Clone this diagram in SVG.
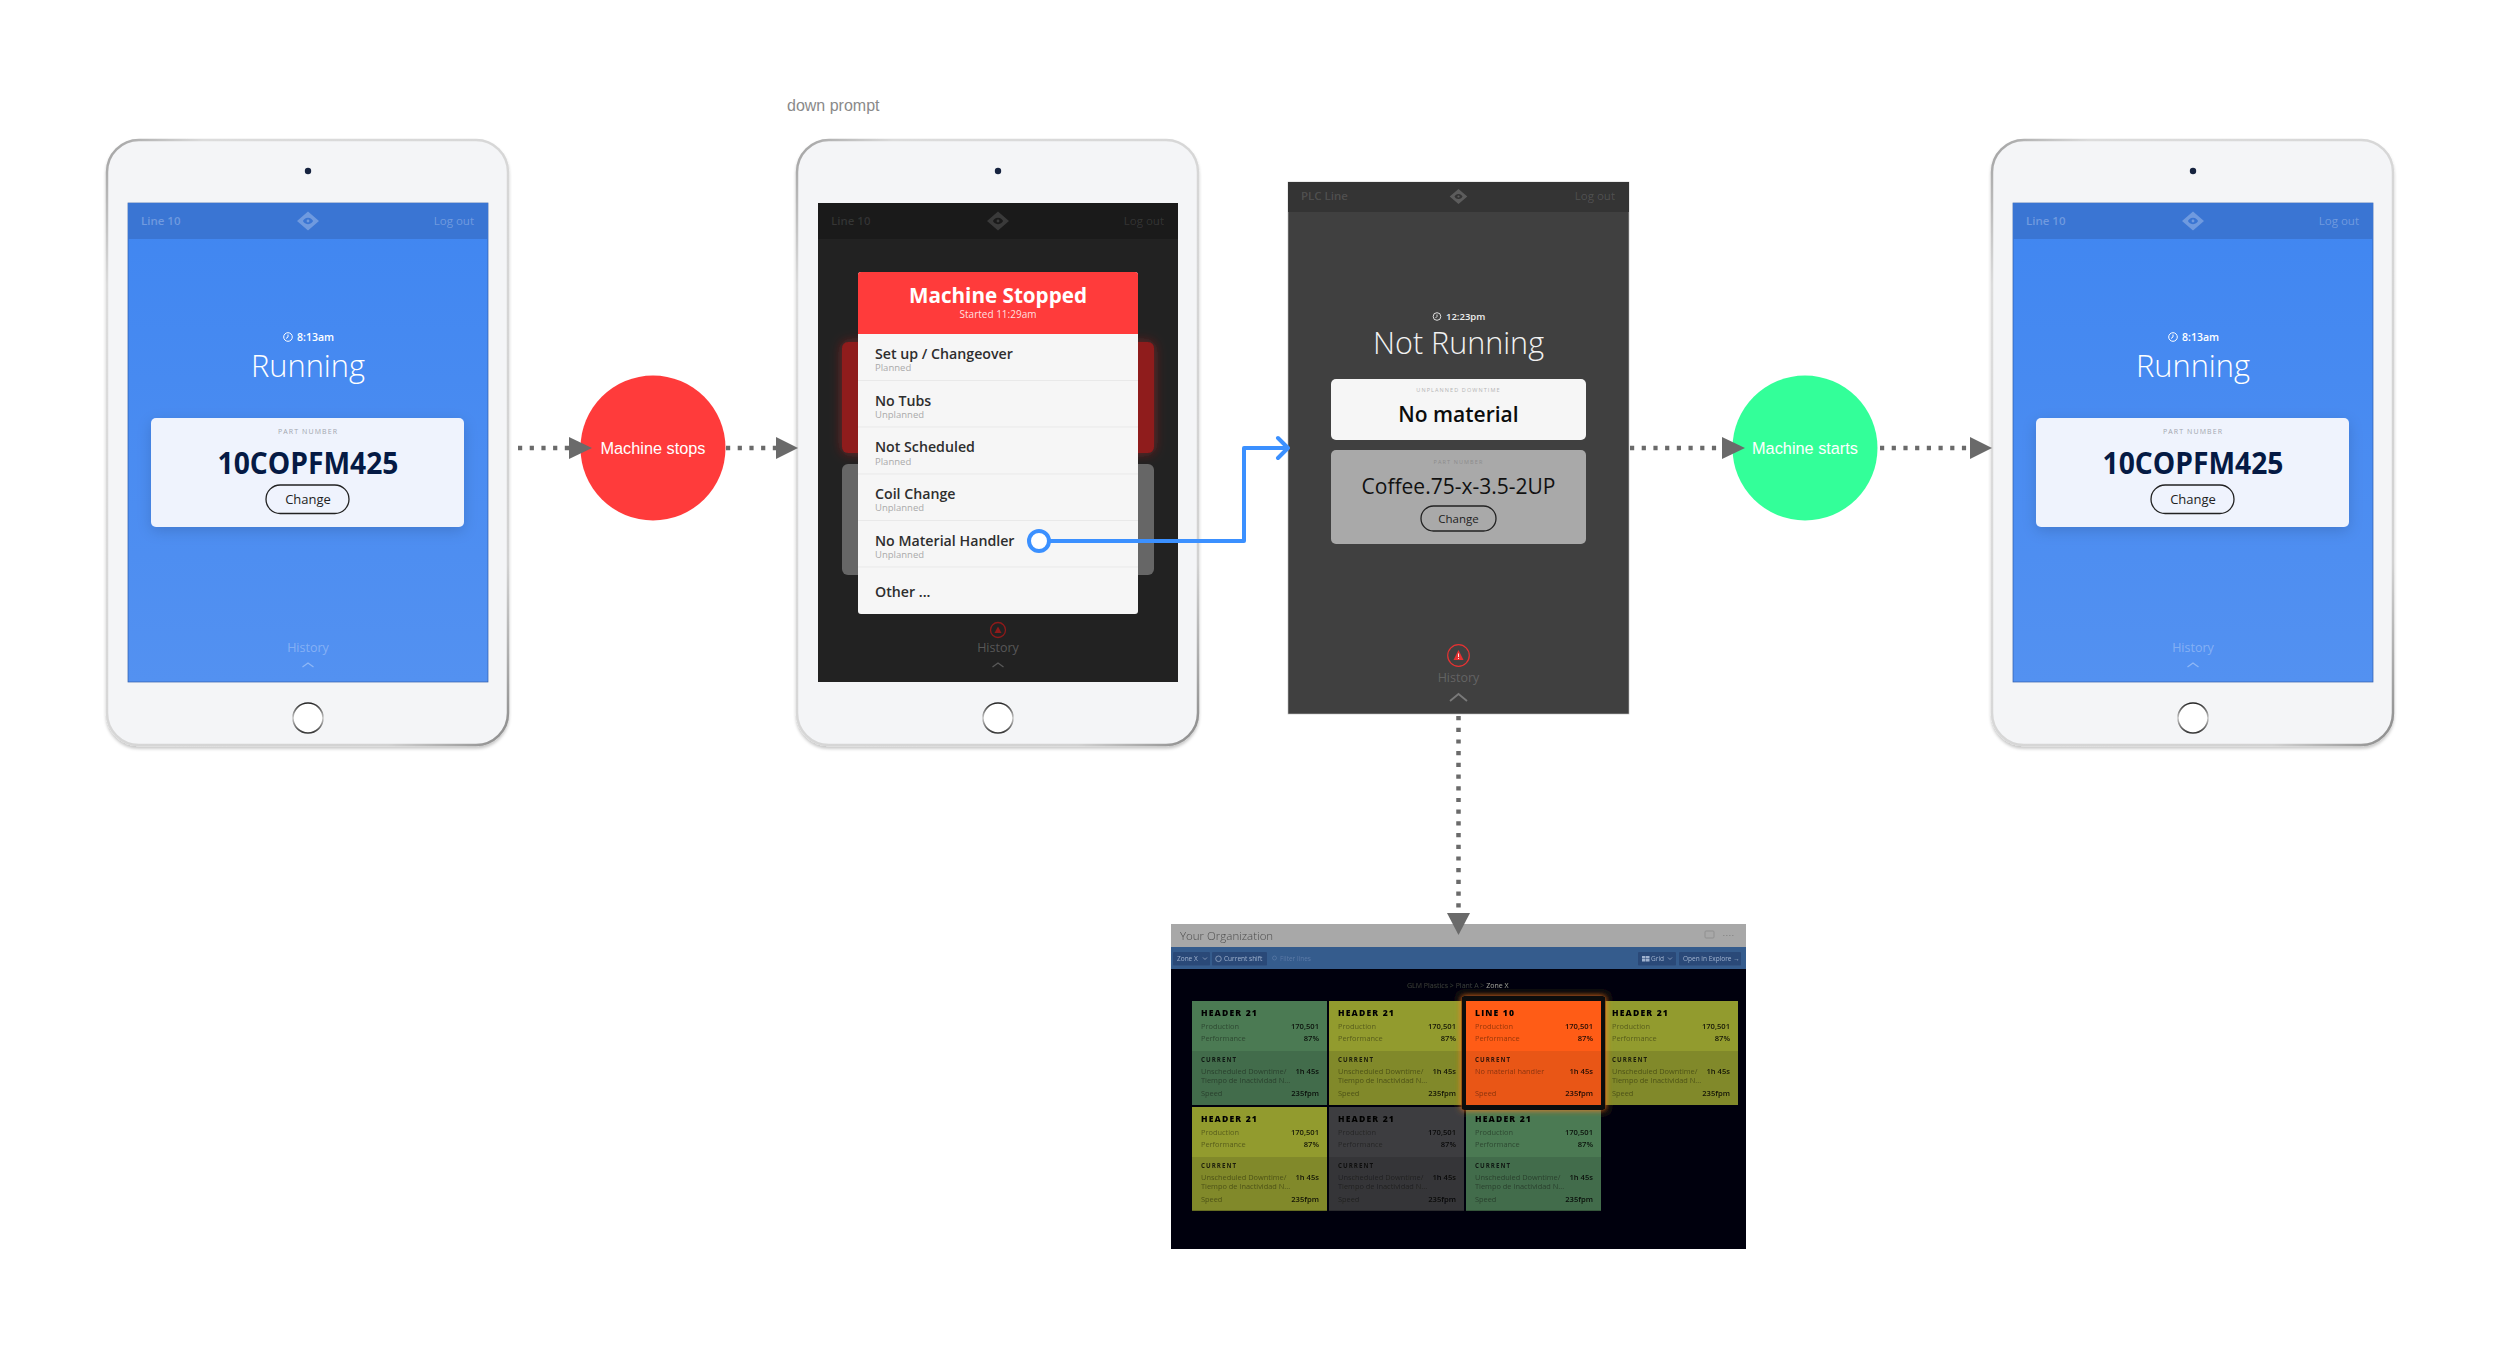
<svg xmlns="http://www.w3.org/2000/svg" width="2500" height="1358" viewBox="0 0 2500 1358">
<style>
text{font-family:"Open Sans","Liberation Sans",sans-serif}
.helv{font-family:"Liberation Sans",Arial,sans-serif}
.m{text-anchor:middle}.e{text-anchor:end}
.bezel{fill:#f4f5f7;stroke:url(#rim);stroke-width:2.5}
.cam{fill:#16233f}
.home{fill:#fff;stroke:url(#homeRim);stroke-width:1.6}
.hd{font-size:11.5px;font-weight:600;fill:#fff;fill-opacity:.28}
.lo{font-size:11.5px;font-weight:400;fill:#fff;fill-opacity:.28}
.hist{font-size:12.5px;font-weight:400;fill:#fff;fill-opacity:.3}
.chev{fill:none;stroke:#fff;stroke-opacity:.35;stroke-width:1.3}
.logo{fill:#fff;fill-opacity:.27}
.time{font-size:10.5px;font-weight:600;fill:#fff}
.clock{fill:none;stroke:#fff;stroke-width:1}
.title{font-size:32px;font-weight:300;fill:#fff}
.lab{font-size:7px;letter-spacing:1.1px;fill:#a2a6ae}
.pn{font-size:30px;font-weight:700;fill:#051a44}
.chg{font-size:13px;fill:#222;font-weight:500}
.btn{fill:none;stroke:#222;stroke-width:1.3}
.r1{font-size:14.2px;font-weight:600;fill:#2e2e2e}
.r2{font-size:9.5px;fill:#aaa}
.div{stroke:#e9e9e9;stroke-width:1}
.dot{fill:none;stroke:#6a6a6a;stroke-width:4.5;stroke-dasharray:4.2 7.5}
.ah{fill:#6a6a6a}
.bl{fill:none;stroke:#3b90ff;stroke-width:4;stroke-linejoin:round;stroke-linecap:round}
.cl{font-size:16.3px;fill:#fff}
.ch{font-size:8.6px;font-weight:800;letter-spacing:1.15px;fill:#050505}
.cc{font-size:6.2px;font-weight:700;letter-spacing:1.05px;fill:#050505;fill-opacity:.8}
.cn{font-size:7.4px;fill:#000;fill-opacity:.42}
.cv{font-size:7.6px;font-weight:600;fill:#000;fill-opacity:.85;text-anchor:end}
.dbtn{fill:#2c4a78}
.dt{font-size:6.5px;fill:#9fb2cf}
.dic{fill:none;stroke:#9fb2cf;stroke-width:.7}
</style>
<defs>
<linearGradient id="rim" x1="0" y1="0" x2="1" y2="1"><stop offset="0" stop-color="#a0a0a0"/><stop offset=".12" stop-color="#dcdcdc"/><stop offset=".85" stop-color="#d2d2d2"/><stop offset="1" stop-color="#8a8a8a"/></linearGradient>
<linearGradient id="homeRim" x1="0" y1="0" x2="0" y2="1"><stop offset="0" stop-color="#222"/><stop offset=".5" stop-color="#ccc"/><stop offset="1" stop-color="#333"/></linearGradient>
<linearGradient id="blue" x1="0" y1="0" x2="0" y2="1"><stop offset="0" stop-color="#4086f1"/><stop offset="1" stop-color="#5391f1"/></linearGradient>
<filter id="sh" x="-10%" y="-20%" width="120%" height="150%"><feDropShadow dx="0" dy="4" stdDeviation="7" flood-color="#000" flood-opacity=".14"/></filter>
<filter id="tsh" x="-5%" y="-5%" width="110%" height="110%"><feDropShadow dx="0" dy="2.5" stdDeviation="1.6" flood-color="#000" flood-opacity=".22"/></filter>
<filter id="rg" x="-15%" y="-25%" width="130%" height="150%"><feDropShadow dx="0" dy="0" stdDeviation="6" flood-color="#ff2a2a" flood-opacity=".4"/></filter>
<filter id="og" x="-15%" y="-15%" width="130%" height="130%"><feDropShadow dx="0" dy="0" stdDeviation="3" flood-color="#ff7a20" flood-opacity="1"/></filter>
<filter id="soft" x="-2%" y="-2%" width="104%" height="104%"><feGaussianBlur stdDeviation=".4"/></filter>
<path id="eye" d="M0 -9.5L11 0L0 9.5L-11 0Z M0 -3.2C-2.8 -3.2 -4.6 -1.2 -5 0C-4.6 1.2 -2.8 3.2 0 3.2C2.8 3.2 4.6 1.2 5 0C4.6 -1.2 2.8 -3.2 0 -3.2Z M0 -1.4A1.4 1.4 0 1 1 0 1.4A1.4 1.4 0 1 1 0 -1.4Z" fill-rule="evenodd"/>
</defs>
<rect width="2500" height="1358" fill="#fff"/>

<g id="tablet-running-1">
<rect class="bezel" x="107" y="140" width="401" height="605" rx="32" filter="url(#tsh)"/>
<circle class="cam" cx="308" cy="171" r="3.2"/>
<circle class="home" cx="308" cy="718" r="15"/>
<rect x="128" y="203" width="360" height="479" fill="url(#blue)" stroke="#2f5da8" stroke-width=".7"/>
<rect x="128" y="203" width="360" height="36" fill="#3a75d3"/>
<text class="hd" x="141" y="225">Line 10</text>
<use href="#eye" class="logo" x="308" y="221"/>
<text class="lo e" x="474" y="225">Log out</text>
<circle class="clock" cx="288" cy="337" r="4.3"/><path class="clock" d="M288 334.500V337L286 338.500"/>
<text class="time" x="297" y="341">8:13am</text>
<text class="title m" x="308" y="377" textLength="114" lengthAdjust="spacingAndGlyphs">Running</text>
<rect x="151" y="418" width="313" height="109" rx="5" fill="#eff3fd" filter="url(#sh)"/>
<text class="lab m" x="308" y="434">PART NUMBER</text>
<text class="pn m" x="308" y="474" textLength="181" lengthAdjust="spacingAndGlyphs">10COPFM425</text>
<rect class="btn" x="266" y="485" width="83" height="28.500" rx="14.200"/>
<text class="chg m" x="308" y="503.500">Change</text>
<text class="hist m" x="308" y="652">History</text>
<path class="chev" d="M302.500 667L308 663L313.500 667"/>
</g>

<g id="tablet-prompt">
<text class="helv" x="787" y="111" font-size="16" fill="#8a8a8a">down prompt</text>
<rect class="bezel" x="797" y="140" width="401" height="605" rx="32" filter="url(#tsh)"/>
<circle class="cam" cx="998" cy="171" r="3.2"/>
<circle class="home" cx="998" cy="718" r="15"/>
<rect x="818" y="203" width="360" height="479" fill="#222"/>
<rect x="818" y="203" width="360" height="36" fill="#1a1a1a"/>
<text class="hd" x="831" y="225" style="fill-opacity:.12">Line 10</text>
<use href="#eye" x="998" y="221" fill="#fff" fill-opacity=".14"/>
<text class="lo e" x="1164" y="225" style="fill-opacity:.12">Log out</text>
<rect x="842" y="342" width="312" height="111" rx="6" fill="#8f1a1a" filter="url(#rg)"/>
<rect x="842" y="464" width="312" height="111" rx="6" fill="#666"/>
<rect x="858" y="272" width="280" height="342" rx="3" fill="#f6f6f6"/>
<path d="M858 334V275a3 3 0 0 1 3-3H1135a3 3 0 0 1 3 3V334Z" fill="#ff3b3b"/>
<text class="m" x="998" y="303" font-size="22" font-weight="700" fill="#fff" textLength="178" lengthAdjust="spacingAndGlyphs">Machine Stopped</text>
<text class="m" x="998" y="318" font-size="10" fill="#fff" fill-opacity=".85">Started 11:29am</text>
<path class="div" d="M858 380.500H1138M858 427H1138M858 474H1138M858 520.500H1138M858 567H1138"/>
<text class="r1" x="875" y="359">Set up / Changeover</text><text class="r2" x="875" y="371">Planned</text>
<text class="r1" x="875" y="405.500">No Tubs</text><text class="r2" x="875" y="417.500">Unplanned</text>
<text class="r1" x="875" y="452">Not Scheduled</text><text class="r2" x="875" y="464.500">Planned</text>
<text class="r1" x="875" y="499">Coil Change</text><text class="r2" x="875" y="511">Unplanned</text>
<text class="r1" x="875" y="546">No Material Handler</text><text class="r2" x="875" y="558">Unplanned</text>
<text class="r1" x="875" y="597">Other ...</text>
<circle cx="998" cy="630" r="7.500" fill="none" stroke="#8f1a1a" stroke-width="1.300"/>
<path d="M998 626.500L1001.500 633H994.500Z" fill="#8f1a1a"/>
<text class="hist m" x="998" y="652" style="fill-opacity:.25">History</text>
<path class="chev" d="M992.500 667L998 663L1003.500 667" style="stroke-opacity:.25"/>
</g>

<g id="screen-not-running">
<rect x="1288" y="182" width="341" height="532" fill="#404040" stroke="#bdbdbd" stroke-width=".6"/>
<rect x="1288" y="182" width="341" height="30" fill="#343434"/>
<text class="hd" x="1301" y="200" style="fill-opacity:.15">PLC Line</text>
<use href="#eye" fill="#fff" fill-opacity=".2" transform="translate(1458.500 196.500) scale(.8)"/>
<text class="lo e" x="1615" y="200" style="fill-opacity:.15">Log out</text>
<circle cx="1437" cy="316.500" r="3.800" fill="none" stroke="#eee" stroke-width=".9"/><path d="M1437 314.500V316.500L1435.500 318" fill="none" stroke="#eee" stroke-width=".9"/>
<text class="time" x="1446" y="320" style="font-size:9.500px;fill:#eee">12:23pm</text>
<text class="title m" x="1458.500" y="354" style="font-size:31px;fill:#f2f2f2" textLength="171" lengthAdjust="spacingAndGlyphs">Not Running</text>
<rect x="1331" y="379" width="255" height="61" rx="5" fill="#f6f6f6"/>
<text class="lab m" x="1458.500" y="391.500" style="font-size:5.500px;fill:#b5b5b5">UNPLANNED DOWNTIME</text>
<text class="m" x="1458.500" y="421.500" font-size="21" font-weight="600" fill="#0c0c0c">No material</text>
<rect x="1331" y="450" width="255" height="94" rx="5" fill="#a9a9a9"/>
<text class="lab m" x="1458.500" y="463.500" style="font-size:5.500px;fill:#8c8c8c">PART NUMBER</text>
<text class="m" x="1458.500" y="493.500" font-size="21" font-weight="500" fill="#111">Coffee.75-x-3.5-2UP</text>
<rect class="btn" x="1421" y="506" width="75" height="25" rx="12.500"/>
<text class="m" x="1458.500" y="522.500" font-size="11.500" fill="#222" font-weight="500">Change</text>
<circle cx="1458.500" cy="655.500" r="10.800" fill="none" stroke="#e53232" stroke-width="1.200"/>
<path d="M1458.500 650L1463.500 660H1453.500Z" fill="#e53232"/>
<path d="M1458.500 653.500V657M1458.500 658V659" stroke="#fff" stroke-width=".9"/>
<text class="hist m" x="1458.500" y="682" style="fill-opacity:.2">History</text>
<path class="chev" d="M1450 701L1458.500 694L1467 701" style="stroke-opacity:.3;stroke-width:1.800"/>
</g>

<g id="tablet-running-2">
<rect class="bezel" x="1992" y="140" width="401" height="605" rx="32" filter="url(#tsh)"/>
<circle class="cam" cx="2193" cy="171" r="3.2"/>
<circle class="home" cx="2193" cy="718" r="15"/>
<rect x="2013" y="203" width="360" height="479" fill="url(#blue)" stroke="#2f5da8" stroke-width=".7"/>
<rect x="2013" y="203" width="360" height="36" fill="#3a75d3"/>
<text class="hd" x="2026" y="225">Line 10</text>
<use href="#eye" class="logo" x="2193" y="221"/>
<text class="lo e" x="2359" y="225">Log out</text>
<circle class="clock" cx="2173" cy="337" r="4.3"/><path class="clock" d="M2173 334.500V337L2171 338.500"/>
<text class="time" x="2182" y="341">8:13am</text>
<text class="title m" x="2193" y="377" textLength="114" lengthAdjust="spacingAndGlyphs">Running</text>
<rect x="2036" y="418" width="313" height="109" rx="5" fill="#eff3fd" filter="url(#sh)"/>
<text class="lab m" x="2193" y="434">PART NUMBER</text>
<text class="pn m" x="2193" y="474" textLength="181" lengthAdjust="spacingAndGlyphs">10COPFM425</text>
<rect class="btn" x="2151" y="485" width="83" height="28.500" rx="14.200"/>
<text class="chg m" x="2193" y="503.500">Change</text>
<text class="hist m" x="2193" y="652">History</text>
<path class="chev" d="M2187.500 667L2193 663L2198.500 667"/>
</g>

<g id="dashboard" filter="url(#soft)">
<rect x="1171" y="924" width="575" height="325" fill="#050609"/>
<rect x="1171" y="924" width="575" height="23" fill="#a8a8a8"/>
<rect x="1171" y="947" width="575" height="22" fill="#345b8d"/>
<text x="1180" y="940" font-size="11.500" font-weight="300" fill="#4c4c4c">Your Organization</text>
<rect x="1705" y="931" width="9" height="7" rx="1" fill="none" stroke="#8c8c8c" stroke-width=".8"/>
<path d="M1723 935.500h12" stroke="#8c8c8c" stroke-width="1.200" stroke-dasharray="1.500 1.500"/>
<rect class="dbtn" x="1173" y="952" width="37" height="13.500" rx="1"/>
<text class="dt" x="1177" y="961">Zone X</text>
<path class="dic" d="M1203 957.500l2 2 2-2"/>
<rect class="dbtn" x="1212" y="952" width="55" height="13.500" rx="1"/>
<circle class="dic" cx="1218.500" cy="958.800" r="2.800"/>
<text class="dt" x="1224" y="961">Current shift</text>
<circle cx="1274.500" cy="958" r="2" fill="none" stroke="#5e7ca7" stroke-width=".7"/>
<text class="dt" x="1280" y="961" style="fill:#5e7ca7">Filter lines</text>
<rect class="dbtn" x="1638" y="952" width="38" height="13.500" rx="1"/>
<path d="M1642 956h3.500v2.500h-3.500zM1646 956h3.500v2.500h-3.500zM1642 959h3.500v2.500h-3.500zM1646 959h3.500v2.500h-3.500z" fill="#9fb2cf"/>
<text class="dt" x="1651" y="961">Grid</text>
<path class="dic" d="M1668 957.500l2 2 2-2"/>
<rect class="dbtn" x="1679" y="952" width="62" height="13.500" rx="1"/>
<text class="dt" x="1683" y="961">Open in Explore →</text>
<text x="1407" y="988" font-size="7" fill="#3a3d42">GLM Plastics &gt; Plant A &gt; <tspan fill="#a0a0a0">Zone X</tspan></text>

<g id="cell-1">
<rect x="1192" y="1001" width="135" height="104" fill="#4b7a53"/><rect x="1192" y="1051" width="135" height="54" fill="#436c4b"/>
<text class="ch" x="1201" y="1016">HEADER 21</text><text class="cn" x="1201" y="1029">Production</text><text class="cv" x="1319" y="1029">170,501</text><text class="cn" x="1201" y="1041">Performance</text><text class="cv" x="1319" y="1041">87%</text>
<text class="cc" x="1201" y="1062">CURRENT</text><text class="cn" x="1201" y="1074">Unscheduled Downtime/</text><text class="cv" x="1319" y="1074">1h 45s</text><text class="cn" x="1201" y="1082.500">Tiempo de Inactividad N...</text><text class="cn" x="1201" y="1096">Speed</text><text class="cv" x="1319" y="1096">235fpm</text>
</g>
<g id="cell-2">
<rect x="1329" y="1001" width="135" height="104" fill="#929b2e"/><rect x="1329" y="1051" width="135" height="54" fill="#818929"/>
<text class="ch" x="1338" y="1016">HEADER 21</text><text class="cn" x="1338" y="1029">Production</text><text class="cv" x="1456" y="1029">170,501</text><text class="cn" x="1338" y="1041">Performance</text><text class="cv" x="1456" y="1041">87%</text>
<text class="cc" x="1338" y="1062">CURRENT</text><text class="cn" x="1338" y="1074">Unscheduled Downtime/</text><text class="cv" x="1456" y="1074">1h 45s</text><text class="cn" x="1338" y="1082.500">Tiempo de Inactividad N...</text><text class="cn" x="1338" y="1096">Speed</text><text class="cv" x="1456" y="1096">235fpm</text>
</g>
<g id="cell-4">
<rect x="1603" y="1001" width="135" height="104" fill="#929b2e"/><rect x="1603" y="1051" width="135" height="54" fill="#818929"/>
<text class="ch" x="1612" y="1016">HEADER 21</text><text class="cn" x="1612" y="1029">Production</text><text class="cv" x="1730" y="1029">170,501</text><text class="cn" x="1612" y="1041">Performance</text><text class="cv" x="1730" y="1041">87%</text>
<text class="cc" x="1612" y="1062">CURRENT</text><text class="cn" x="1612" y="1074">Unscheduled Downtime/</text><text class="cv" x="1730" y="1074">1h 45s</text><text class="cn" x="1612" y="1082.500">Tiempo de Inactividad N...</text><text class="cn" x="1612" y="1096">Speed</text><text class="cv" x="1730" y="1096">235fpm</text>
</g>
<g id="cell-5">
<rect x="1192" y="1107" width="135" height="103.500" fill="#929b2e"/><rect x="1192" y="1157" width="135" height="53.500" fill="#818929"/>
<text class="ch" x="1201" y="1122">HEADER 21</text><text class="cn" x="1201" y="1135">Production</text><text class="cv" x="1319" y="1135">170,501</text><text class="cn" x="1201" y="1147">Performance</text><text class="cv" x="1319" y="1147">87%</text>
<text class="cc" x="1201" y="1168">CURRENT</text><text class="cn" x="1201" y="1180">Unscheduled Downtime/</text><text class="cv" x="1319" y="1180">1h 45s</text><text class="cn" x="1201" y="1188.500">Tiempo de Inactividad N...</text><text class="cn" x="1201" y="1202">Speed</text><text class="cv" x="1319" y="1202">235fpm</text>
</g>
<g id="cell-6">
<rect x="1329" y="1107" width="135" height="103.500" fill="#3e3e40"/><rect x="1329" y="1157" width="135" height="53.500" fill="#363638"/>
<text class="ch" x="1338" y="1122">HEADER 21</text><text class="cn" x="1338" y="1135">Production</text><text class="cv" x="1456" y="1135">170,501</text><text class="cn" x="1338" y="1147">Performance</text><text class="cv" x="1456" y="1147">87%</text>
<text class="cc" x="1338" y="1168">CURRENT</text><text class="cn" x="1338" y="1180">Unscheduled Downtime/</text><text class="cv" x="1456" y="1180">1h 45s</text><text class="cn" x="1338" y="1188.500">Tiempo de Inactividad N...</text><text class="cn" x="1338" y="1202">Speed</text><text class="cv" x="1456" y="1202">235fpm</text>
</g>
<g id="cell-7">
<rect x="1466" y="1107" width="135" height="103.500" fill="#4b7a53"/><rect x="1466" y="1157" width="135" height="53.500" fill="#436c4b"/>
<text class="ch" x="1475" y="1122">HEADER 21</text><text class="cn" x="1475" y="1135">Production</text><text class="cv" x="1593" y="1135">170,501</text><text class="cn" x="1475" y="1147">Performance</text><text class="cv" x="1593" y="1147">87%</text>
<text class="cc" x="1475" y="1168">CURRENT</text><text class="cn" x="1475" y="1180">Unscheduled Downtime/</text><text class="cv" x="1593" y="1180">1h 45s</text><text class="cn" x="1475" y="1188.500">Tiempo de Inactividad N...</text><text class="cn" x="1475" y="1202">Speed</text><text class="cv" x="1593" y="1202">235fpm</text>
</g>
<g id="cell-3">
<rect x="1461.500" y="996" width="144" height="114" rx="2.500" fill="#0a0a0a" filter="url(#og)"/>
<rect x="1466" y="1001" width="135" height="104" fill="#ff5c15"/><rect x="1466" y="1051" width="135" height="54" fill="#e95617"/>
<text class="ch" x="1475" y="1016">LINE 10</text><text class="cn" x="1475" y="1029">Production</text><text class="cv" x="1593" y="1029">170,501</text><text class="cn" x="1475" y="1041">Performance</text><text class="cv" x="1593" y="1041">87%</text>
<text class="cc" x="1475" y="1062">CURRENT</text><text class="cn" x="1475" y="1074">No material handler</text><text class="cv" x="1593" y="1074">1h 45s</text><text class="cn" x="1475" y="1096">Speed</text><text class="cv" x="1593" y="1096">235fpm</text>
</g>
</g>

<g id="node-machine-stops">
<circle cx="653" cy="448" r="72.500" fill="#ff3b3b"/>
<text class="helv cl m" x="653" y="454">Machine stops</text>
</g>
<g id="node-machine-starts">
<circle cx="1805" cy="448" r="72.500" fill="#33ff99"/>
<text class="helv cl m" x="1805" y="454">Machine starts</text>
</g>

<g id="connectors">
<path class="dot" d="M518 448H572"/><path class="ah" d="M569 437L592 448L569 459Z"/>
<path class="dot" d="M726 448H780"/><path class="ah" d="M776 437L798 448L776 459Z"/>
<path class="dot" d="M1630 448H1726"/><path class="ah" d="M1722 437L1745 448L1722 459Z"/>
<path class="dot" d="M1880 448H1974"/><path class="ah" d="M1970 437L1992 448L1970 459Z"/>
<path class="dot" d="M1458.500 716V916"/><path class="ah" d="M1447 913H1470L1458.500 935Z"/>
<path class="bl" d="M1049 541H1244V448H1288M1278 438L1288 448L1278 458"/>
<circle cx="1039" cy="541" r="10" fill="#fff" stroke="#3b90ff" stroke-width="4"/>
</g>
</svg>
